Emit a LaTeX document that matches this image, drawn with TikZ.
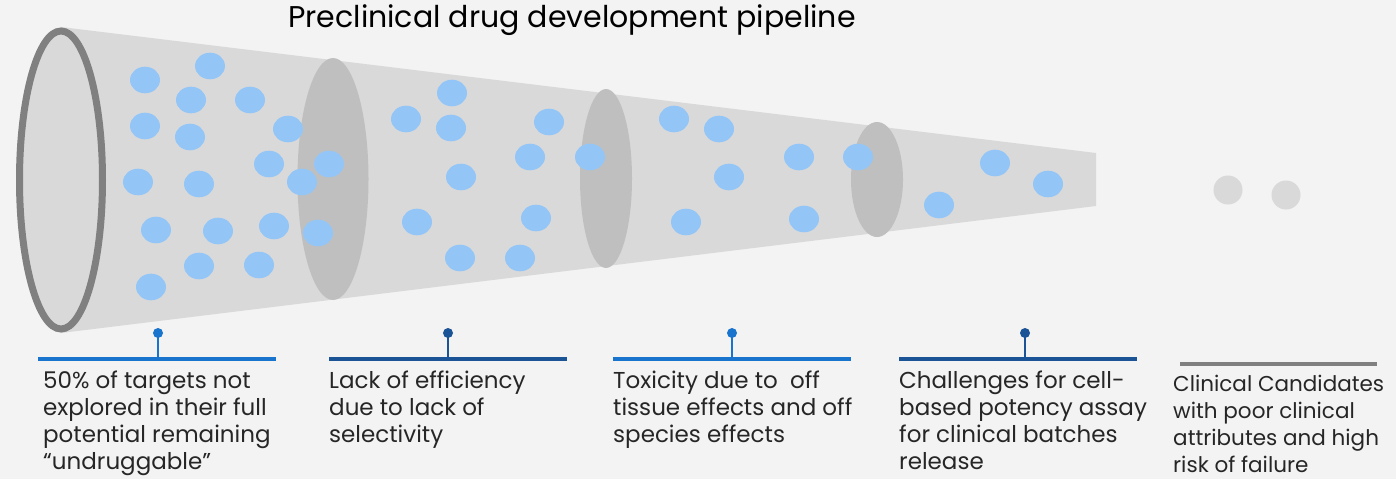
\documentclass[tikz,border=0pt]{standalone}
\usepackage{fontspec}
\setmainfont{Poppins}
\begin{document}
\begin{tikzpicture}[x=1pt,y=-1pt,
  lbl/.style={anchor=north west,align=left,inner sep=0pt,text=txt,font=\fontsize{23}{27}\selectfont},
  bar/.style={line width=4pt},
  stem/.style={line width=2pt}]
\definecolor{bg}{HTML}{F3F3F3}
\definecolor{funnel}{HTML}{D9D9D9}
\definecolor{inner}{HTML}{BFBFBF}
\definecolor{ring}{HTML}{808080}
\definecolor{dotblue}{HTML}{93C6F6}
\definecolor{blueA}{HTML}{1874CD}
\definecolor{blueB}{HTML}{1B5496}
\definecolor{txt}{HTML}{262626}
\fill[bg] (0,0) rectangle (1396,479);
\useasboundingbox (0,0) rectangle (1396,479);
% funnel
\fill[funnel] (61,27) -- (1096,153) -- (1096,206) -- (61,333) -- cycle;
\fill[inner] (333,179) ellipse [x radius=35.5, y radius=121];
\fill[inner] (606,178.5) ellipse [x radius=26, y radius=89.5];
\fill[inner] (877,179.5) ellipse [x radius=26, y radius=57.5];
\draw[ring,line width=7pt,fill=funnel] (61,180) ellipse [x radius=41.5, y radius=149];
% blue dots
\foreach \p in {(145,80),(210,66),(191,100),(250,100),(145,126),(190,137),(288,129),(269,164),(329,164),(302,182),(138,182),(199,184),(156,230),(218,231),(274,226),(318,233),(199,266),(259,265),(151,287),
 (406,119),(452,93),(451,128),(549,122),(530,157),(590,157),(461,177),(417,222),(536,218),(460,258),(520,258),
 (674,119),(719,129),(729,177),(686,222),(799,157),(804,219),(858,157),
 (939,205),(995,163),(1048,184)}
  \fill[dotblue] \p ellipse [x radius=15, y radius=13.3];
\fill[funnel] (1228,190) circle [radius=14.5];
\fill[funnel] (1286,195) circle [radius=14.5];
% title
\node[anchor=center,inner sep=0pt,text=black,font=\fontsize{30}{36}\selectfont] (title) at (572,20) {Preclinical drug development pipeline};
% bars
\coordinate (b1l) at (38,359); \coordinate (b1r) at (276,359);
\coordinate (b2l) at (329,359); \coordinate (b2r) at (567,359);
\coordinate (b3l) at (613,359); \coordinate (b3r) at (851,359);
\coordinate (b4l) at (899,359); \coordinate (b4r) at (1137,359);
\coordinate (b5l) at (1180,364); \coordinate (b5r) at (1377,364);
\draw[bar,blueA] (b1l) -- (b1r);
\draw[bar,blueB] (b2l) -- (b2r);
\draw[bar,blueA] (b3l) -- (b3r);
\draw[bar,blueB] (b4l) -- (b4r);
\draw[bar,ring] (b5l) -- (b5r);
% stems
\coordinate (s1) at (158,333); \coordinate (s1b) at (158,359);
\coordinate (s2) at (448,333); \coordinate (s2b) at (448,359);
\coordinate (s3) at (732,333); \coordinate (s3b) at (732,359);
\coordinate (s4) at (1025,333); \coordinate (s4b) at (1025,359);
\draw[stem,blueA] (s1) -- (s1b); \fill[blueA] (s1) circle [radius=5];
\draw[stem,blueB] (s2) -- (s2b); \fill[blueB] (s2) circle [radius=5];
\draw[stem,blueA] (s3) -- (s3b); \fill[blueA] (s3) circle [radius=5];
\draw[stem,blueB] (s4) -- (s4b); \fill[blueB] (s4) circle [radius=5];
% labels
\node[lbl] (t1) at (43,371) {50\% of targets not\\explored in their full\\potential remaining\\“undruggable”};
\node[lbl] (t2) at (329,371) {Lack of efficiency\\due to lack of\\selectivity};
\node[lbl] (t3) at (613,371) {Toxicity due to\ \ off\\tissue effects and off\\species effects};
\node[lbl] (t4) at (899,371) {Challenges for cell-\\based potency assay\\for clinical batches\\release};
\node[lbl,font=\fontsize{21.5}{27}\selectfont] (t5) at (1173,375) {Clinical Candidates\\with poor clinical\\attributes and high\\risk of failure};
\end{tikzpicture}
\end{document}
